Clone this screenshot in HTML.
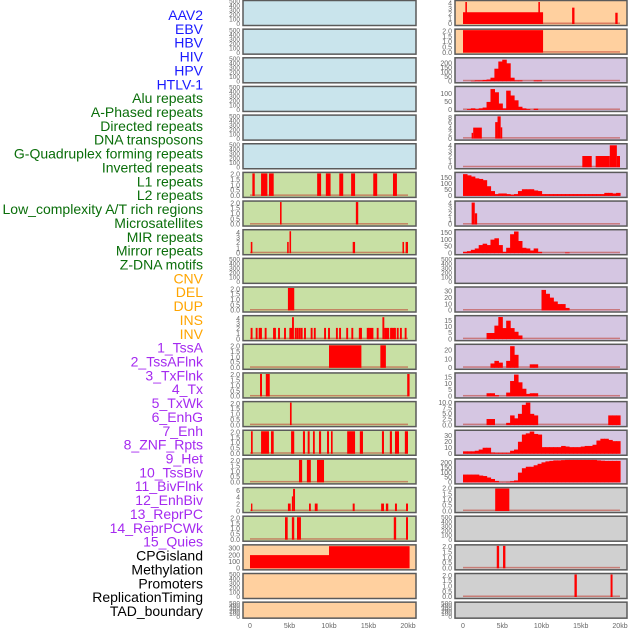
<!DOCTYPE html>
<html><head><meta charset="utf-8">
<style>
html,body{margin:0;padding:0;background:#fff;width:630px;height:630px;overflow:hidden}
svg{display:block}
</style></head>
<body>
<svg id="chart" width="630" height="630" xmlns="http://www.w3.org/2000/svg" font-family="Liberation Sans, sans-serif"></svg>
<script>
// ---- labels ----
const labelNames = ["AAV2","EBV","HBV","HIV","HPV","HTLV-1","Alu repeats","A-Phased repeats","Directed repeats","DNA transposons","G-Quadruplex forming repeats","Inverted repeats","L1 repeats","L2 repeats","Low_complexity A/T rich regions","Microsatellites","MIR repeats","Mirror repeats","Z-DNA motifs","CNV","DEL","DUP","INS","INV","1_TssA","2_TssAFlnk","3_TxFlnk","4_Tx","5_TxWk","6_EnhG","7_Enh","8_ZNF_Rpts","9_Het","10_TssBiv","11_BivFlnk","12_EnhBiv","13_ReprPC","14_ReprPCWk","15_Quies","CPGisland","Methylation","Promoters","ReplicationTiming","TAD_boundary"];
const labelGroups = [6,13,5,15,5];
const groupColors = ["#1a1aff","#0a6e0a","#ffa500","#a52af0","#000000"];
const xTickKb = [0,5,10,15,20];
const xTickLabels = ["0","5kb","10kb","15kb","20kb"];

// ---- left column segments [startKb, endKb, value] ----
const leftL1 = [[0.3,0.6,2.1],[1.4,2.2,2.1],[2.4,3.0,2.1],[8.5,9.0,2.1],[9.6,10.2,2.1],[11.3,11.8,2.1],[12.8,13.3,2.1],[15.6,16.1,2.1],[18.1,18.6,2.1]];
const leftL2 = [[3.8,4.0,2.1],[13.4,13.7,2.1]];
const leftLowc = [[0.1,0.3,2.2],[4.7,4.9,2.2],[5.0,5.2,4.3],[13.0,13.3,2.2],[19.3,19.5,2.2],[19.7,20.0,2.2]];
const leftMir = [[4.8,5.6,2.1]];
const leftMirrorCenters = [0.2,0.84,1.22,1.39,1.98,3.04,3.16,3.67,4.43,5.1,5.27,5.44,5.78,6.03,6.29,6.54,6.96,7.8,8.2,9.5,10.0,11.0,11.4,12.3,12.95,13.9,14.05,14.9,15.06,15.27,15.5,16.16,16.88,17.1,17.3,17.5,17.85,18.0,18.2,18.35,18.7,19.1,19.7];
const leftMirrorValues = [2.2,2.2,2.2,2.2,2.2,2.2,2.2,2.2,2.2,2.2,2.2,4.3,2.2,2.2,2.2,2.2,2.2,2.2,2.2,2.2,2.2,2.2,2.2,2.2,2.2,2.2,2.2,2.2,2.2,2.2,2.2,2.2,4.3,2.2,2.2,2.2,2.2,2.2,2.2,2.2,2.2,2.2,2.2];
const leftR12 = [[10.0,14.1,2.1],[16.5,17.2,2.1]];
const leftR13 = [[1.27,1.52,2.1],[2.0,2.5,2.1],[19.9,20.2,2.1]];
const leftR14 = [[5.06,5.27,2.1]];
const leftR15 = [[0.13,0.34,2.1],[1.4,2.4,2.1],[2.66,3.0,2.1],[5.2,5.6,2.1],[6.7,6.96,2.1],[7.3,7.55,2.1],[7.97,8.2,2.1],[8.73,9.0,2.1],[9.75,10.0,2.1],[10.25,10.46,2.1],[12.3,13.3,2.1],[13.9,14.3,2.1],[16.7,16.96,2.1],[17.7,17.97,2.1],[18.35,18.86,2.1],[19.6,20.0,2.1]];
const leftR16 = [[6.2,6.6,2.1],[7.2,7.7,2.1],[8.48,9.37,2.1]];
const leftR17 = [[0.13,0.3,2.2],[4.8,5.15,2.2],[5.3,5.45,4.3],[5.45,5.7,6.5],[7.47,7.7,2.2],[8.2,8.56,2.2],[13.0,13.25,2.2],[16.6,16.96,2.2],[17.2,17.5,2.2],[18.35,18.6,2.2],[19.75,20.0,2.2]];
const leftR18 = [[4.43,4.77,2.1],[5.3,5.6,2.1],[5.95,6.45,2.1],[18.2,18.5,2.1],[19.75,20.0,2.1]];
const leftR19 = [[0,10,200],[10,20.2,335]];

// ---- right column segments ----
const rightAAV2 = [[0,10.2,2.3],[0.3,0.5,4.3],[9.6,9.8,4.3],[13.9,14.2,3.2],[19.4,19.7,2.2]];
const rightEBV = [[0,10.2,2.1]];
const rightHTLV = [[1.1,1.3,2.2],[1.3,2.4,4.2],[4.1,4.4,6.3],[4.4,4.8,8.5],[4.8,5.0,4.3]];
const rightAlu = [[15.2,16.4,2.1],[16.9,18.7,2.1],[18.7,19.6,4.1],[19.6,20.0,2.1]];
const rightDirected = [[1.1,1.5,4.1],[1.5,1.8,2.1]];
const rightZdna = [[4.1,5.9,2.0]];
const rightDel = [[4.3,4.6,2.1],[5.1,5.4,2.1]];
const rightDup = [[14.2,14.5,2.1],[18.8,19.05,2.1]];

// ---- right column histograms [binStartKb, value], bin = 0.5kb ----
const histHBV = [[1,5],[1.5,10],[2,10],[2.5,15],[3,20],[3.5,40],[4,140],[4.5,220],[5,240],[5.5,200],[6,40],[6.5,10],[7,10],[9,10],[9.5,10]];
const histHPV = [[0.5,5],[1,10],[1.5,5],[2,10],[2.5,15],[3,50],[3.5,130],[4,110],[4.5,40],[5,10],[5.5,120],[6,90],[6.5,60],[7,20],[7.5,10],[8,5],[9,8]];
const histAPhased = [[0,180],[0.5,170],[1,160],[1.5,145],[2,140],[2.5,130],[3,80],[3.5,40],[4,15],[4.5,20],[5,20],[5.5,15],[6,10],[6.5,15],[7,40],[7.5,55],[8,55],[8.5,55],[9,45],[9.5,40],[10,15],[10.5,15],[11,15],[11.5,15],[12,15],[12.5,15],[13,15],[13.5,15],[14,15],[14.5,15],[15,15],[15.5,15],[16,15],[16.5,15],[17,15],[17.5,15],[18,25],[18.5,25],[19,20],[19.5,25]];
const histDNA = [[0,10],[0.5,15],[1,25],[1.5,35],[2,60],[2.5,70],[3,60],[3.5,100],[4,110],[4.5,60],[5,10],[5.5,40],[6,140],[6.5,160],[7,90],[7.5,40],[8,35],[8.5,20],[9,35],[9.5,10],[13,5]];
const histInverted = [[10,32],[10.5,26],[11,20],[11.5,14],[12,10],[12.5,10],[13,4]];
const histL1 = [[3,5],[3.5,5],[4,11],[4.5,18],[5,9],[5.5,15],[6,9],[6.5,6],[7,3]];
const histL2 = [[3.5,5],[4,8],[4.5,6],[5.5,8],[6,25],[6.5,15],[8.5,4],[9,4]];
const histLowc = [[3,2.5],[3.5,2.5],[4,1],[5.5,3],[6,12],[6.5,17],[7,11],[7.5,6],[8,2],[8.5,2.5],[9,2.5]];
const histMicro = [[3,2.7],[3.5,2.7],[5.5,1],[6,4.3],[6.5,3],[7,5],[7.5,9],[8,10],[8.5,5],[9,4.3],[18.5,4.3],[19,4.3],[19.5,4.3]];
const histMIR = [[0,4],[0.5,4],[1,4],[1.5,5],[2,7],[2.5,10],[3,10],[3.5,2],[4,1.5],[4.5,1.5],[5,1.5],[5.5,1.5],[6,5],[6.5,7],[7,20],[7.5,32],[8,34],[8.5,37],[9,33],[9.5,32],[10,11],[10.5,11],[11,11],[11.5,11],[12,11],[12.5,13],[13,12],[13.5,11],[14,11],[14.5,11],[15,12],[15.5,13],[16,13],[16.5,15],[17,22],[17.5,25],[18,25],[18.5,23],[19,21],[19.5,21]];
const histMirror = [[0,80],[0.5,80],[1,80],[1.5,80],[2,70],[2.5,65],[3,50],[3.5,35],[4,15],[4.5,3],[5,3],[5.5,5],[6,12],[6.5,20],[7,100],[7.5,145],[8,160],[8.5,160],[9,175],[9.5,190],[10,205],[10.5,215],[11,220],[11.5,225],[12,225],[12.5,228],[13,230],[13.5,230],[14,230],[14.5,230],[15,230],[15.5,230],[16,230],[16.5,230],[17,225],[17.5,222],[18,220],[18.5,220],[19,220],[19.5,220]];

const BLUE="#c9e4ec", GREEN="#c8e0a4", PEACH="#ffd09f", LAV="#d5c6e2", GREY="#d0d0d0";
const T500=[0,100,200,300,400,500], T2=[0,0.5,1,1.5,2], T4=[0,1,2,3,4];
const tickFmt2 = v => v.toFixed(1);

const leftPanels = [
 {bg:BLUE,ymax:500,ticks:T500},{bg:BLUE,ymax:500,ticks:T500},{bg:BLUE,ymax:500,ticks:T500},
 {bg:BLUE,ymax:500,ticks:T500},{bg:BLUE,ymax:500,ticks:T500},{bg:BLUE,ymax:500,ticks:T500},
 {bg:GREEN,ymax:2.1,ticks:T2,fmt:tickFmt2,seg:leftL1},
 {bg:GREEN,ymax:2.1,ticks:T2,fmt:tickFmt2,seg:leftL2},
 {bg:GREEN,ymax:4.4,ticks:T4,seg:leftLowc},
 {bg:GREEN,ymax:500,ticks:T500},
 {bg:GREEN,ymax:2.1,ticks:T2,fmt:tickFmt2,seg:leftMir},
 {bg:GREEN,ymax:4.4,ticks:T4,centers:leftMirrorCenters,cvals:leftMirrorValues},
 {bg:GREEN,ymax:2.1,ticks:T2,fmt:tickFmt2,seg:leftR12},
 {bg:GREEN,ymax:2.1,ticks:T2,fmt:tickFmt2,seg:leftR13},
 {bg:GREEN,ymax:2.1,ticks:T2,fmt:tickFmt2,seg:leftR14},
 {bg:GREEN,ymax:2.1,ticks:T2,fmt:tickFmt2,seg:leftR15},
 {bg:GREEN,ymax:2.1,ticks:T2,fmt:tickFmt2,seg:leftR16},
 {bg:GREEN,ymax:6.6,ticks:[0,2,4,6],seg:leftR17},
 {bg:GREEN,ymax:2.1,ticks:T2,fmt:tickFmt2,seg:leftR18},
 {bg:PEACH,ymax:340,ticks:[0,100,200,300],seg:leftR19,nobase:true},
 {bg:PEACH,ymax:500,ticks:T500},{bg:PEACH,ymax:500,ticks:T500}
];
const rightPanels = [
 {bg:PEACH,ymax:4.4,ticks:T4,seg:rightAAV2},
 {bg:PEACH,ymax:2.1,ticks:T2,fmt:tickFmt2,seg:rightEBV},
 {bg:LAV,ymax:250,ticks:[0,50,100,150,200],hist:histHBV},
 {bg:LAV,ymax:140,ticks:[0,50,100],hist:histHPV},
 {bg:LAV,ymax:8.6,ticks:[0,2,4,6,8],seg:rightHTLV},
 {bg:LAV,ymax:4.2,ticks:T4,seg:rightAlu},
 {bg:LAV,ymax:186,ticks:[0,50,100,150],hist:histAPhased},
 {bg:LAV,ymax:4.2,ticks:T4,seg:rightDirected},
 {bg:LAV,ymax:166,ticks:[0,50,100,150],hist:histDNA},
 {bg:LAV,ymax:500,ticks:T500},
 {bg:LAV,ymax:35,ticks:[0,10,20,30],hist:histInverted},
 {bg:LAV,ymax:18.3,ticks:[0,5,10,15],hist:histL1},
 {bg:LAV,ymax:26,ticks:[0,10,20],hist:histL2},
 {bg:LAV,ymax:17.5,ticks:[0,5,10,15],hist:histLowc},
 {bg:LAV,ymax:10,ticks:[0,2.5,5,7.5,10],fmt:v=>v.toFixed(1),hist:histMicro},
 {bg:LAV,ymax:37.5,ticks:[0,10,20,30],hist:histMIR},
 {bg:LAV,ymax:230,ticks:[0,50,100,150,200],hist:histMirror},
 {bg:GREY,ymax:2.0,ticks:T2,fmt:tickFmt2,seg:rightZdna},
 {bg:GREY,ymax:500,ticks:T500},
 {bg:GREY,ymax:2.1,ticks:T2,fmt:tickFmt2,seg:rightDel},
 {bg:GREY,ymax:2.1,ticks:T2,fmt:tickFmt2,seg:rightDup},
 {bg:GREY,ymax:500,ticks:T500}
];

const NS="http://www.w3.org/2000/svg";
const svg=document.getElementById('chart');
function mk(tag,attrs,parent){const e=document.createElementNS(NS,tag);for(const k in attrs)e.setAttribute(k,attrs[k]);(parent||svg).appendChild(e);return e;}

// labels
let li=0;
labelGroups.forEach((n,g)=>{for(let j=0;j<n;j++){
  const t=mk('text',{x:203,y:(20+li*13.86).toFixed(1),'text-anchor':'end','font-size':'14',fill:groupColors[g]});
  t.textContent=labelNames[li];
  
  
  li++;}});

const cols=[{x0:243,x1:416,kx:250,ppk:7.9,tickX:240,panels:leftPanels,name:'left'},
            {x0:455,x1:627,kx:463,ppk:7.85,tickX:452,panels:rightPanels,name:'right'}];
cols.forEach(col=>{
  const xs=kb=>col.kx+kb*col.ppk;
  col.panels.forEach((p,i)=>{
    const top=i*28.65+0.5, h=(i===21?16:25);
    const g=mk('g',{});
    
    
    mk('rect',{x:col.x0,y:top,width:col.x1-col.x0,height:h,fill:p.bg},g);
    const y0=top+h-1.5, y1=top+1;
    const ys=v=>y0-(v/p.ymax)*(y0-y1);
    p.ticks.forEach(v=>{
      const t=mk('text',{x:col.tickX,y:(ys(v)+2.2).toFixed(1),'text-anchor':'end','font-size':(p.ymax===500?'6.5':'7'),fill:'#666'},g);
      t.textContent=p.fmt?p.fmt(v):String(v);
      
      
    });
    const hasData=p.seg||p.hist||p.centers;
    if(hasData&&!p.nobase){
      const b=mk('rect',{x:xs(0),y:y0-1.5,width:xs(20)-xs(0),height:1.5,fill:'#c0392b',opacity:'0.55'},g);
      
      
    }
    const bar=(a,b,v,pad)=>{const r=mk('rect',{x:xs(a).toFixed(2),y:ys(v).toFixed(2),width:(Math.max(1.2,xs(b)-xs(a))+pad).toFixed(2),height:(y0-ys(v)).toFixed(2),fill:'#ff0000'},g);
      
      };
    if(p.seg)p.seg.forEach(s=>bar(s[0],s[1],s[2],0));
    if(p.hist)p.hist.forEach(s=>bar(s[0],s[0]+0.5,s[1],0.6));
    if(p.centers)p.centers.forEach((c,k)=>bar(c-0.12,c+0.12,p.cvals[k],0));
    const fr=mk('rect',{x:col.x0,y:top,width:col.x1-col.x0,height:h,fill:'none',stroke:'#5a5a5a','stroke-width':'1.5'},g);
    
    
  });
  xTickKb.forEach((k,j)=>{
    const t=mk('text',{x:xs(k),y:628,'text-anchor':'middle','font-size':'7',fill:'#666'});
    t.textContent=xTickLabels[j];
    
    
  });
});
</script>
</body></html>
